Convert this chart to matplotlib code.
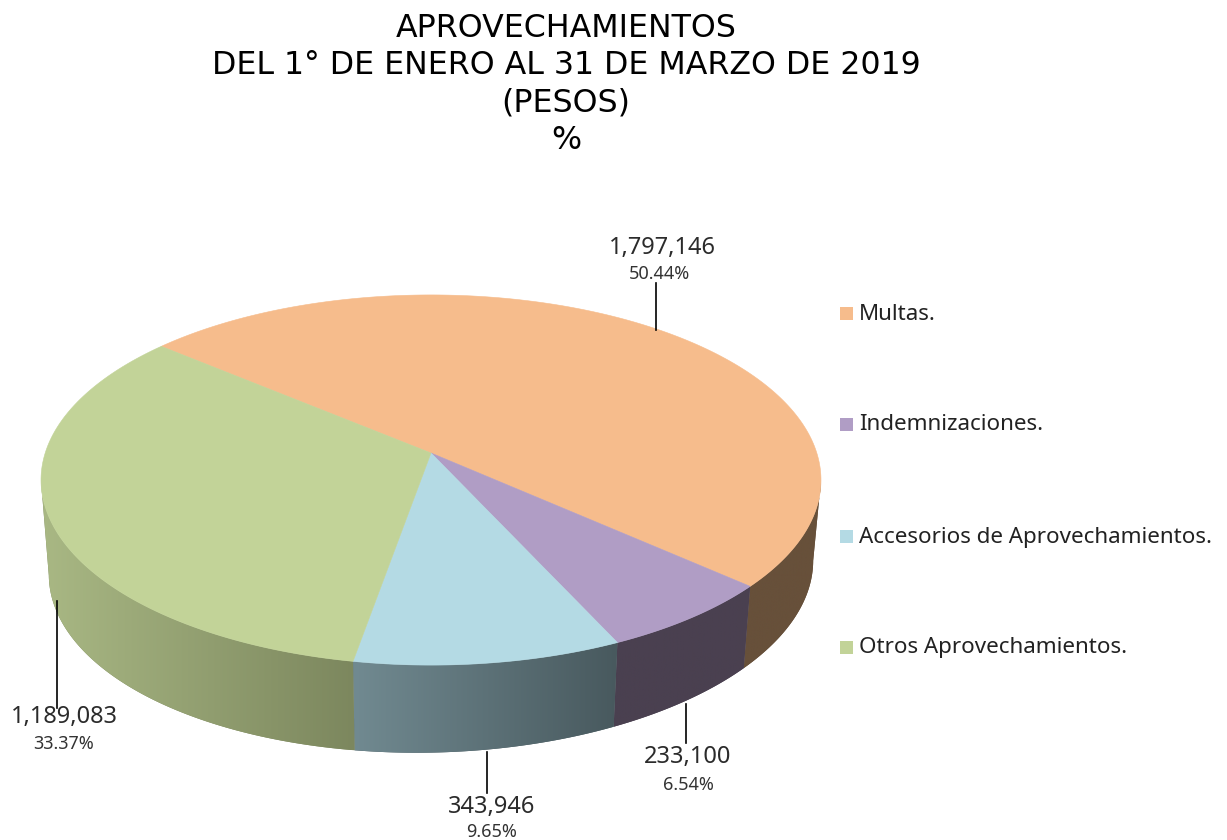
import numpy as np
import matplotlib
matplotlib.use("Agg")
import matplotlib.pyplot as plt
from matplotlib.patches import Polygon, Rectangle
from matplotlib.colors import LinearSegmentedColormap

# datos de la grafica
categorias = ["Multas.", "Indemnizaciones.", "Accesorios de Aprovechamientos.", "Otros Aprovechamientos."]
valores = [1797146, 233100, 343946, 1189083]
etiquetas = ["1,797,146", "233,100", "343,946", "1,189,083"]
porcentajes = ["50.44%", "6.54%", "9.65%", "33.37%"]
titulo = ["APROVECHAMIENTOS", "DEL 1° DE ENERO AL 31 DE MARZO DE 2019", "(PESOS)", "%"]

colores = ["#F6BC8C", "#B09DC5", "#B4DAE4", "#C2D398"]
lado_izq = ["#67503A", "#4A4050", "#718A91", "#A9B884"]
lado_der = ["#67503A", "#4A4050", "#48595E", "#7C875E"]

CX, CY = 431, 453
A, B, K = 385.8, 115.0, 0.146
INICIO = 139.9
S_BASE = 0.98

plt.rcParams['font.family'] = ['Noto Sans', 'DejaVu Sans']


def arriba(t):
    # circulo en perspectiva, t en grados
    r = np.radians(t)
    x, y = np.cos(r), np.sin(r)
    return CX + A * x / (1 + K * y), (CY - B * y) / (1 + K * y)


def abajo(t):
    x, y = arriba(t)
    return CX + (x - CX) * S_BASE, y + 87.5 - 0.018 * (x - CX)


fig = plt.figure(figsize=(12.27, 8.4), dpi=100)
ax = fig.add_axes([0, 0, 1, 1])
ax.axis("off")

total = sum(valores)
bordes = INICIO - np.cumsum([0] + valores) / total * 360

# paredes laterales con degradado (solo hasta la tangente del contorno)
for i in range(len(valores)):
    t = np.linspace(bordes[i], bordes[i + 1], 400)
    t = t[np.sin(np.radians(t)) <= -K]
    x1, y1 = arriba(t)
    x2, y2 = abajo(t)
    px = np.concatenate([x1, x2[::-1]])
    py = np.concatenate([y1, y2[::-1]])
    cmap = LinearSegmentedColormap.from_list("g", [lado_izq[i], lado_der[i]])
    pol = Polygon(np.column_stack([px, py]), closed=True, fc=lado_der[i], ec="none", zorder=1)
    ax.add_patch(pol)
    im = ax.imshow(np.linspace(0, 1, 256).reshape(1, -1), cmap=cmap, aspect="auto", zorder=1.5,
                   extent=[px.min(), px.max(), py.max(), py.min()])
    im.set_clip_path(pol)

# cara superior
for i in range(len(valores)):
    t = np.linspace(bordes[i], bordes[i + 1], 400)
    x, y = arriba(t)
    px = np.concatenate([[CX], x])
    py = np.concatenate([[CY], y])
    ax.add_patch(Polygon(np.column_stack([px, py]), closed=True, fc=colores[i], ec=colores[i], lw=0.4, zorder=2))

# lineas guia y etiquetas
lineas = [(656, 283, 330), (686, 704, 743), (487, 752, 793), (57, 601, 708)]
pos_val = [(662, 248), (688, 757), (492, 807), (64, 717)]
pos_pct = [(659, 274), (688, 785), (492, 832), (64, 744)]
for i in range(len(valores)):
    x, y0, y1 = lineas[i]
    ax.plot([x, x], [y0, y1], color="black", lw=1.2, zorder=3)
    ax.text(pos_val[i][0], pos_val[i][1], etiquetas[i], ha="center", va="center", fontsize=17, color="#2b2b2b", zorder=4)
    ax.text(pos_pct[i][0], pos_pct[i][1], porcentajes[i], ha="center", va="center", fontsize=13, color="#333333", zorder=4)

# leyenda
ley_y = [313, 424, 536, 647]
for i in range(len(categorias)):
    ax.add_patch(Rectangle((840, ley_y[i] - 6.5), 13, 13, fc=colores[i], ec="none"))
    ax.text(859, ley_y[i] + 1, categorias[i], ha="left", va="center", fontsize=16.1, color="#222222")

# titulo
tit_y = [37, 74, 112, 149]
for i in range(len(titulo)):
    ax.text(566, tit_y[i], titulo[i], ha="center", va="baseline", fontsize=22.8, color="black",
            family="DejaVu Sans")

ax.set_xlim(0, 1227)
ax.set_ylim(840, 0)
fig.savefig("out.png", dpi=100)
